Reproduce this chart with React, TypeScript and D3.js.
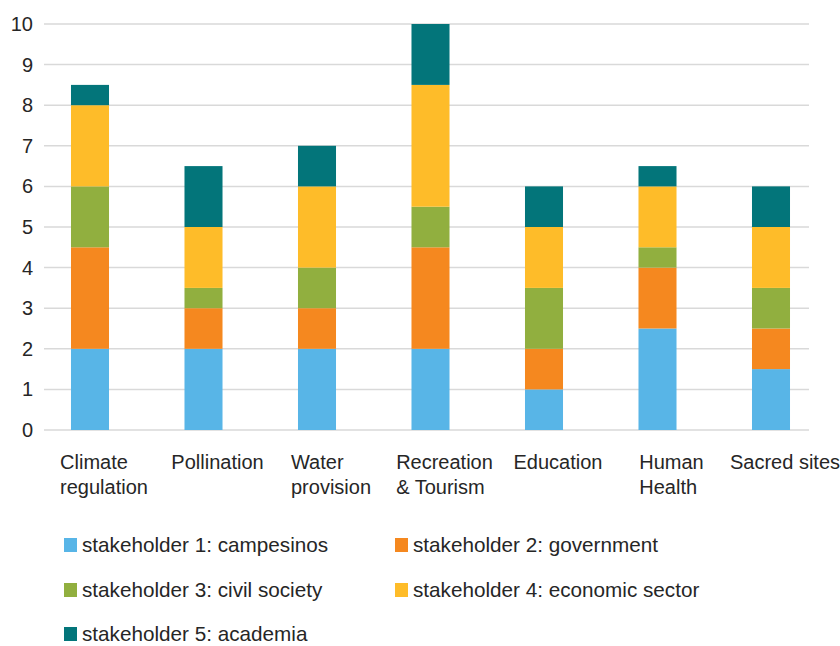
import React, { useMemo } from "react";
import * as d3 from "d3";

const categories: string[][] = [
  ["Climate", "regulation"],
  ["Pollination"],
  ["Water", "provision"],
  ["Recreation", "& Tourism"],
  ["Education"],
  ["Human", "Health"],
  ["Sacred sites"],
];
const seriesNames = [
  "stakeholder 1: campesinos",
  "stakeholder 2: government",
  "stakeholder 3: civil society",
  "stakeholder 4: economic sector",
  "stakeholder 5: academia",
];
const campesinos = [2, 2, 2, 2, 1, 2.5, 1.5];
const government = [2.5, 1, 1, 2.5, 1, 1.5, 1];
const civilSociety = [1.5, 0.5, 1, 1, 1.5, 0.5, 1];
const economicSector = [2, 1.5, 2, 3, 1.5, 1.5, 1.5];
const academia = [0.5, 1.5, 1, 1.5, 1, 0.5, 1];
const yTicks = [0, 1, 2, 3, 4, 5, 6, 7, 8, 9, 10];

const colors = ["#58B5E7", "#F5881F", "#91AF3F", "#FEBC29", "#03757A"];
const FONT = "'Liberation Sans', Arial, Helvetica, sans-serif";

export default function App() {
  const W = 840;
  const H = 646;
  const series = [campesinos, government, civilSociety, economicSector, academia];
  const keys = categories.map((c) => c.join(" "));

  const x = d3
    .scaleBand<string>()
    .domain(keys)
    .range([33.25, 827.75])
    .paddingInner(0.665)
    .paddingOuter(0.3325);
  const y = d3.scaleLinear().domain([0, 10]).range([430, 24]);

  const rows = keys.map((k, i) => {
    const r: any = { key: k };
    seriesNames.forEach((s, j) => (r[s] = series[j][i]));
    return r;
  });
  const stacked = d3.stack<any>().keys(seriesNames)(rows);

  const measure = useMemo(() => {
    const cv = document.createElement("canvas");
    const ctx = cv.getContext("2d")!;
    ctx.font = `20px ${FONT}`;
    return (t: string) => ctx.measureText(t).width;
  }, []);

  const legendPos = [
    [64, 545],
    [395, 545],
    [64, 590],
    [395, 590],
    [64, 634],
  ];

  return (
    <svg
      width={W}
      height={H}
      style={{ position: "absolute", left: 0, top: 0, background: "#fff" }}
      fontFamily={FONT}
    >
      {yTicks.map((t) => (
        <g key={t}>
          <line x1={44} x2={809} y1={y(t)} y2={y(t)} stroke="#d9d9d9" strokeWidth={1.5} />
          <text x={33} y={y(t)} dy="0.35em" textAnchor="end" fontSize={20} fill="#262626">
            {t}
          </text>
        </g>
      ))}
      {stacked.map((s, j) => (
        <g key={s.key} fill={colors[j]}>
          {s.map((d, i) => (
            <rect
              key={i}
              x={x(keys[i])}
              width={x.bandwidth()}
              y={y(d[1])}
              height={y(d[0]) - y(d[1])}
            />
          ))}
        </g>
      ))}
      {categories.map((lines, i) => {
        const cx = (x(keys[i]) as number) + x.bandwidth() / 2 + 14;
        const w = Math.max(...lines.map(measure));
        const left = cx - w / 2;
        return (
          <text key={i} fontSize={20} fill="#262626">
            {lines.map((l, k) => (
              <tspan key={k} x={left} y={469 + k * 25}>
                {l}
              </tspan>
            ))}
          </text>
        );
      })}
      {seriesNames.map((s, j) => (
        <g key={s} transform={`translate(${legendPos[j][0]},${legendPos[j][1]})`}>
          <rect x={0} y={-7} width={13} height={14} fill={colors[j]} />
          <text x={18} y={0} dy="0.35em" fontSize={20.7} fill="#262626">
            {s}
          </text>
        </g>
      ))}
    </svg>
  );
}
